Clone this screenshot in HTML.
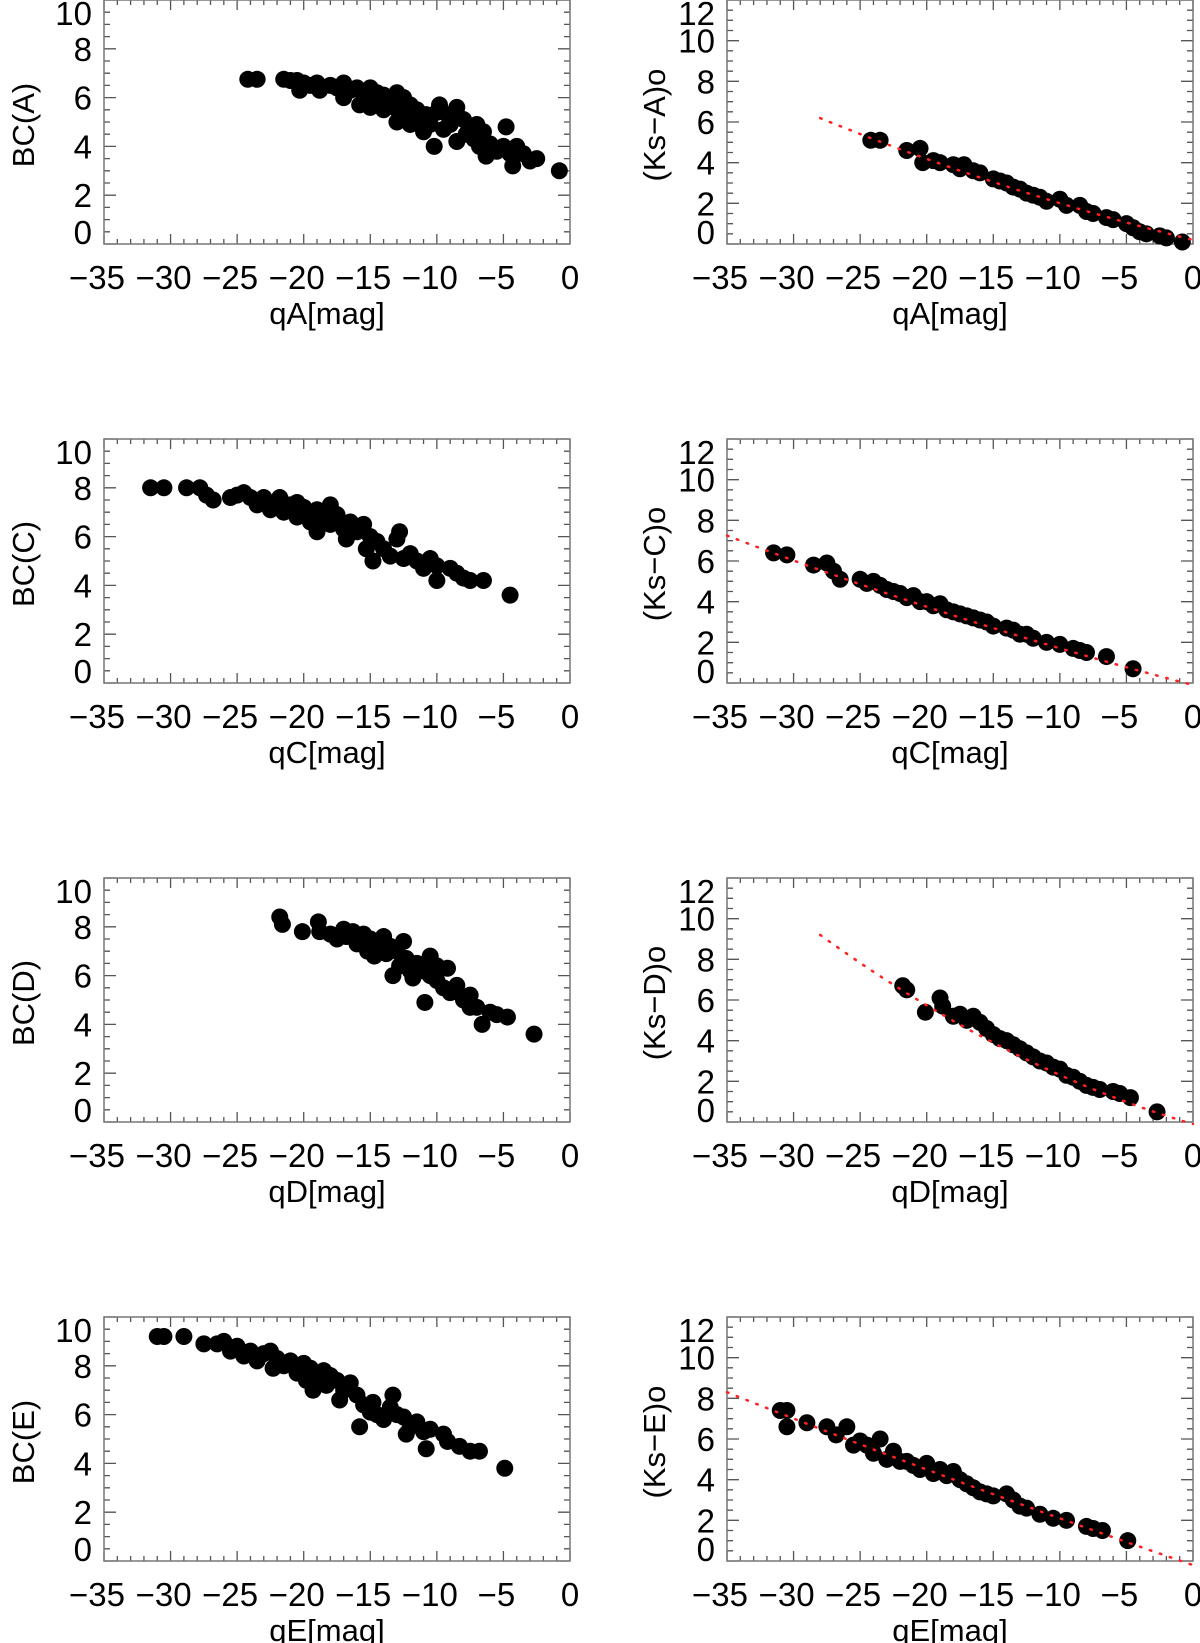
<!DOCTYPE html>
<html><head><meta charset="utf-8"><style>
html,body{margin:0;padding:0;background:#fff;}
svg{display:block;font-family:"Liberation Sans",sans-serif;}
</style></head><body>
<svg id="fig" width="1200" height="1643" viewBox="0 0 1200 1643" xmlns="http://www.w3.org/2000/svg"></svg>
<script>
// ---- data ----
const xTicks = [-35,-30,-25,-20,-15,-10,-5,0];
const yTicksLeft = [0,2,4,6,8,10];
const yTicksRight = [0,2,4,6,8,10,12];
const rowNames = ['A','C','D','E'];
const xTitles = ['qA[mag]','qC[mag]','qD[mag]','qE[mag]'];
const leftTitles = ['BC(A)','BC(C)','BC(D)','BC(E)'];
const rightTitles = ['(Ks\u2212A)o','(Ks\u2212C)o','(Ks\u2212D)o','(Ks\u2212E)o'];

const bcAx = [-24.2,-23.5,-21.5,-21,-20.5,-20.3,-20,-19.5,-19,-18.8,-18,-17.5,-17,-17,-16.5,-16,-15.8,-15.5,-15,-15,-14.5,-14.3,-14,-14,-13.5,-13.2,-13,-13,-12.8,-12.5,-12.3,-12,-12,-11.5,-11.2,-11,-10.8,-10.5,-10.2,-10,-9.8,-9.5,-9.2,-9,-8.5,-8.5,-8,-7.8,-7.5,-7.2,-7,-6.8,-6.5,-6.3,-6,-5.5,-5,-4.8,-4.5,-4.3,-4,-3.5,-3,-2.5,-0.8];
const bcAy = [6.75,6.75,6.75,6.7,6.7,6.3,6.6,6.5,6.6,6.3,6.5,6.4,6.6,6.0,6.3,6.4,5.7,6.1,6.4,5.6,6.2,5.8,5.5,6.1,5.9,5.6,6.2,5.0,5.4,6.0,5.2,5.7,4.9,5.5,5.0,4.6,5.3,4.9,4.0,5.4,5.7,4.7,5.3,4.9,4.2,5.6,5.1,4.5,4.8,4.3,4.9,4.0,4.6,3.6,4.1,3.8,4.0,4.8,3.7,3.2,4.0,3.7,3.4,3.5,3.0];
const bcCx = [-31.5,-30.5,-28.8,-27.8,-27.3,-26.8,-25.5,-25,-24.5,-24,-23.5,-23,-22.5,-22,-21.8,-21.5,-21,-20.5,-20.5,-20,-19.5,-19,-19,-18.5,-18,-18,-17.5,-17,-16.8,-16.5,-16,-15.5,-15.3,-15,-14.8,-14.5,-14,-13.5,-13,-12.8,-12.5,-12,-11.5,-11,-10.5,-10,-10,-9,-8.5,-8,-7.5,-6.5,-4.5];
const bcCy = [8.0,8.0,8.0,8.0,7.7,7.5,7.6,7.7,7.8,7.6,7.3,7.6,7.1,7.4,7.6,7.0,7.3,7.4,6.8,7.2,6.6,7.1,6.2,6.7,7.3,6.5,6.9,6.3,5.9,6.6,6.2,6.5,5.5,6.0,5.0,5.8,5.5,5.2,5.9,6.2,5.1,5.3,5.0,4.7,5.1,4.8,4.2,4.7,4.5,4.3,4.2,4.2,3.6];
const bcDx = [-21.8,-21.6,-20.1,-18.9,-18.8,-18,-17.5,-17,-16.8,-16.3,-16,-15.5,-15.2,-15,-14.7,-14.5,-14,-13.8,-13.5,-13.3,-13,-12.8,-12.5,-12.3,-12,-11.8,-11.5,-10.9,-11,-10.5,-10.5,-10,-10,-9.5,-9.2,-9,-8.5,-8,-7.5,-7.5,-7,-6.6,-6,-5.5,-4.7,-2.7];
const bcDy = [8.4,8.1,7.8,8.2,7.8,7.7,7.5,7.9,7.6,7.8,7.3,7.7,7.0,7.5,6.8,7.3,7.6,6.9,7.2,6.0,7.0,6.4,7.4,6.7,6.2,5.9,6.5,4.9,6.2,6.0,6.8,5.8,6.4,5.5,6.3,5.3,5.6,5.0,5.2,4.7,4.7,4.0,4.5,4.4,4.3,3.6];
const bcEx = [-31,-30.5,-29,-27.5,-26.5,-26,-25.5,-25,-24.5,-24,-23.5,-23,-22.5,-22.3,-22,-21.5,-21,-20.5,-20,-19.8,-19.5,-19.3,-19,-18.5,-18.3,-18,-17.5,-17.3,-17,-16.5,-16,-15.8,-15.5,-15,-14.8,-14.5,-14,-13.5,-13.3,-13,-12.5,-12.3,-12,-11.5,-11,-10.8,-10.5,-9.5,-9.2,-8.3,-7.5,-6.8,-4.9];
const bcEy = [9.2,9.2,9.2,8.9,8.9,9.0,8.6,8.8,8.4,8.6,8.2,8.5,8.6,7.9,8.3,8.0,8.2,7.7,8.1,7.4,7.9,7.0,7.6,7.8,7.2,7.6,7.4,6.6,7.0,7.3,6.8,5.5,6.4,6.1,6.5,6.0,5.8,6.3,6.8,6.0,5.9,5.2,5.5,5.7,5.3,4.6,5.4,5.2,4.9,4.7,4.5,4.5,3.8];

const ksAx = [-24.2,-23.5,-21.5,-20.5,-20.3,-19.5,-19,-18,-17.5,-17.2,-16.5,-16,-15,-14.5,-14,-13.5,-13,-12.5,-12,-11.5,-11,-10,-9.5,-8.5,-8,-7.5,-6.5,-6,-5,-4.5,-4,-3.5,-2.5,-2,-0.8];
const ksAy = [5.1,5.1,4.6,4.7,4.0,4.1,4.0,3.9,3.7,3.9,3.6,3.5,3.2,3.1,3.0,2.8,2.7,2.5,2.4,2.3,2.1,2.2,1.9,1.9,1.6,1.5,1.3,1.2,1.0,0.8,0.6,0.5,0.4,0.3,0.1];
const ksCx = [-31.5,-30.5,-28.5,-27.5,-27,-26.5,-25,-24.5,-24,-23.5,-23,-22.5,-22,-21.5,-21,-20.5,-20,-19.5,-19,-18.5,-18,-17.5,-17,-16.5,-16,-15.5,-15,-14,-13.5,-13,-12.5,-12,-11,-10,-9,-8.5,-8,-6.5,-4.5];
const ksCy = [6.4,6.3,5.8,5.9,5.5,5.1,5.1,4.9,5.0,4.8,4.6,4.5,4.4,4.2,4.3,4.0,4.0,3.8,3.9,3.6,3.5,3.4,3.3,3.2,3.1,3.0,2.8,2.7,2.6,2.4,2.4,2.2,2.0,1.9,1.7,1.6,1.5,1.3,0.7];
const ksDx = [-21.8,-21.5,-20.1,-19,-18.8,-18,-17.5,-17,-16.5,-16,-15.5,-15,-14.5,-14,-13.5,-13,-12.5,-12,-11.5,-11,-10.5,-10,-9.5,-9,-8.5,-8,-7.5,-7,-6,-5.5,-4.7,-2.7];
const ksDy = [6.7,6.5,5.4,6.1,5.7,5.2,5.3,5.0,5.2,4.9,4.6,4.3,4.1,4.0,3.8,3.6,3.4,3.2,3.0,2.9,2.7,2.6,2.3,2.2,2.0,1.8,1.7,1.6,1.5,1.4,1.2,0.5];
const ksEx = [-31,-30.5,-30.5,-29,-27.5,-26.8,-26,-25.5,-25,-24.5,-24,-23.5,-23,-22.5,-22,-21.5,-21,-20.5,-20,-19.5,-19,-18.5,-18,-17.5,-17,-16.5,-16,-15.5,-15,-14,-13.5,-13,-12.5,-11.5,-10.5,-9.5,-8,-7.5,-6.8,-4.9];
const ksEy = [7.4,7.4,6.6,6.8,6.6,6.2,6.6,5.7,5.9,5.7,5.3,6.0,5.0,5.4,4.9,4.9,4.7,4.5,4.8,4.3,4.5,4.2,4.4,4.0,3.8,3.6,3.4,3.3,3.2,3.3,3.0,2.7,2.6,2.3,2.1,2.0,1.7,1.6,1.5,1.0];

// quadratic fit coefficients [a,b,c] and fit x-range
const fitA = [0.2,-0.1624,0.00184];
const fitC = [-0.1,-0.1692,0.001166];
const fitD = [-0.1,-0.191,0.00504];
const fitE = [-0.2,-0.2245,0.000524];
const fitRangeA = [-28,0];
const fitRangeC = [-35,0];
const fitRangeD = [-28,0];
const fitRangeE = [-35,0];

const leftX = [bcAx,bcCx,bcDx,bcEx], leftY = [bcAy,bcCy,bcDy,bcEy];
const rightX = [ksAx,ksCx,ksDx,ksEx], rightY = [ksAy,ksCy,ksDy,ksEy];
const fits = [fitA,fitC,fitD,fitE], fitRanges = [fitRangeA,fitRangeC,fitRangeD,fitRangeE];

// ---- drawing ----
const NS = 'http://www.w3.org/2000/svg';
const svg = document.getElementById('fig');
function mk(tag, attrs, parent){ const e=document.createElementNS(NS,tag); for(const k in attrs) e.setAttribute(k,attrs[k]); (parent||svg).appendChild(e); return e; }
const rowTop = [0,439,878,1317];
const BOX_H = 244;

function panel(row, side){
  const T = rowTop[row];
  const L = side===0 ? 104 : 727, R = L+466, B = T+BOX_H;
  const ymax = side===0 ? 10 : 12;
  const g = mk('g',{});
  
  
  const xs = v => L + (v+35)/35*(R-L);
  const ys = v => B - v/ymax*(B-T);
  let d='';
  for(let v=-35; v<=0; v++){ const len = v%5===0?10:5; const x=xs(v); d+=`M${x} ${B}v${-len}M${x} ${T}v${len}`; }
  for(let v=0; v<=ymax+1e-9; v+=0.5){ const len = Math.abs(v%2)<1e-9?12:6; const y=ys(v); d+=`M${L} ${y}h${len}M${R} ${y}h${-len}`; }
  const ticks = mk('path',{d:d,stroke:'#555','stroke-width':1.3,fill:'none'},g);
  
  
  const box = mk('rect',{x:L,y:T,width:R-L,height:B-T,fill:'none',stroke:'#777','stroke-width':1.5},g);
  
  
  xTicks.forEach(v=>{
    const t = mk('text',{x:xs(v)-(v===0?0:7),y:T+289,'font-size':33,'text-anchor':'middle',fill:'#000'},g);
    t.textContent = v<0 ? '\u2212'+Math.abs(v) : String(v);
    
    
  });
  const yt = side===0 ? yTicksLeft : yTicksRight;
  yt.forEach(v=>{
    let by = ys(v)+12;
    if(v===0) by = B; if(v===ymax) by = T+25;
    const t = mk('text',{x:L-12,y:by,'font-size':33,'text-anchor':'end',fill:'#000'},g);
    t.textContent = String(v);
    
    
  });
  const xt = mk('text',{x:(L+R)/2-10,y:T+324,'font-size':31,'text-anchor':'middle',fill:'#000'},g);
  xt.textContent = xTitles[row];
  
  
  const tx = side===0 ? 34 : 665, ty = T+125;
  const ytl = mk('text',{x:tx,y:ty,'font-size':31,'text-anchor':'middle',fill:'#000',transform:`rotate(-90 ${tx} ${ty})`},g);
  ytl.textContent = side===0 ? leftTitles[row] : rightTitles[row];
  
  
  const X = side===0 ? leftX[row] : rightX[row], Y = side===0 ? leftY[row] : rightY[row];
  X.forEach((xv,i)=>{
    const c = mk('circle',{cx:xs(xv),cy:ys(Y[i]),r:8.5,fill:'#000'},g);
    
    
  });
  if(side===1){
    const f = fits[row], fr = fitRanges[row];
    let p='';
    for(let k=0;k<=80;k++){ const xv = fr[0]+(fr[1]-fr[0])*k/80; const yv=f[0]+f[1]*xv+f[2]*xv*xv; p+=(k?'L':'M')+xs(xv).toFixed(1)+' '+ys(yv).toFixed(1); }
    const fl = mk('path',{d:p,fill:'none',stroke:'#ff2020','stroke-width':2.5,'stroke-dasharray':'1.5 9','stroke-linecap':'round'},g);
    
    
  }
}
for(let r=0;r<4;r++){ panel(r,0); panel(r,1); }
</script>
</body></html>
